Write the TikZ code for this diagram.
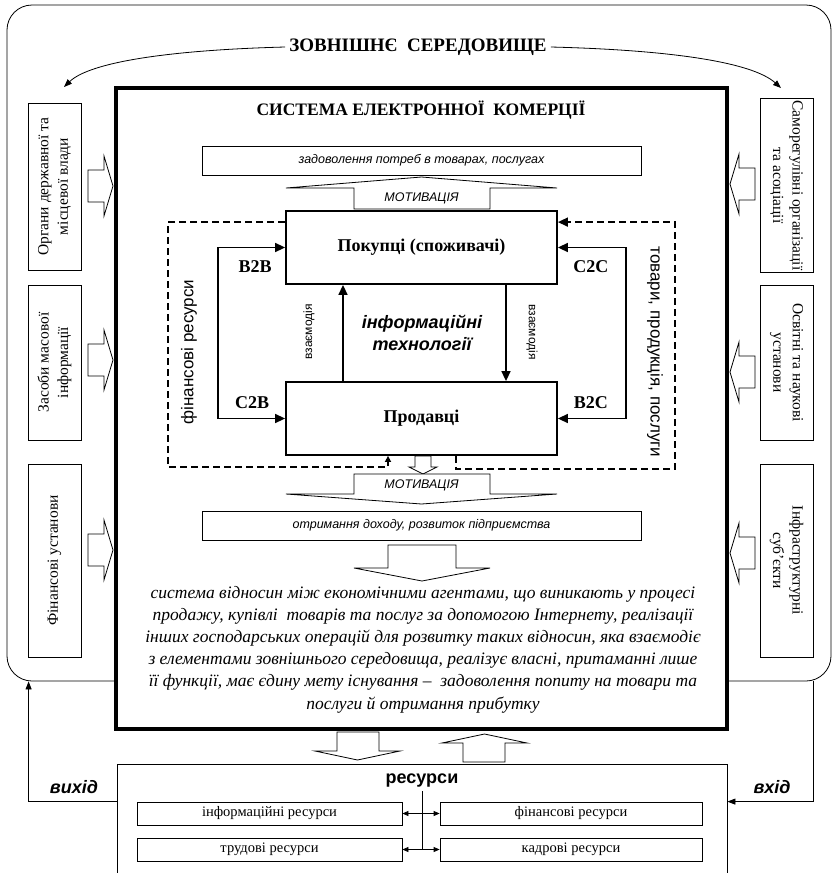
\documentclass[tikz,border=0pt]{standalone}
\usepackage{fontspec}
\setmainfont{Liberation Serif}
\setsansfont{Liberation Sans}
\usetikzlibrary{arrows.meta}
\newcommand{\flechedroite}[2]{\draw[fleche] (#1,#2) ++(0,-16) -- ++(16,0) -- ++(0,-14) -- ++(9,30) -- ++(-9,30) -- ++(0,-14) -- ++(-16,0) -- cycle;}
\newcommand{\flechegauche}[2]{\draw[fleche] (#1,#2) ++(0,-16) -- ++(-16,0) -- ++(0,-14) -- ++(-9,30) -- ++(9,30) -- ++(0,-14) -- ++(16,0) -- cycle;}

\begin{document}
\begin{tikzpicture}[x=1pt,y=-1pt,
	>={Triangle[length=10pt,width=9pt]},
	mince/.style={line width=0.8pt},
	acteur/.style={draw,line width=0.8pt,minimum height=53pt,inner sep=2pt,align=center,font=\fontsize{15.5}{19.5}\selectfont},
	bloc/.style={draw,line width=1.8pt,minimum width=271pt,minimum height=73pt,inner sep=0pt,font=\fontsize{18}{20}\selectfont\bfseries},
	besoin/.style={draw,line width=0.8pt,minimum width=439pt,minimum height=29pt,inner sep=0pt,font=\fontsize{12.5}{14}\selectfont\sffamily\itshape},
	fleche/.style={draw,line width=0.8pt,fill=white},
	lien/.style={line width=1.5pt},
	modele/.style={font=\fontsize{18}{20}\selectfont\bfseries},
	motiv/.style={font=\fontsize{12.5}{14}\selectfont\sffamily\itshape},
	ressource/.style={draw,line width=0.8pt,minimum height=23pt,inner sep=0pt,font=\fontsize{14.5}{16}\selectfont},
	sortie/.style={font=\fontsize{18}{20}\selectfont\sffamily\bfseries\itshape}]
	\useasboundingbox (0,0) rectangle (835,873);
	% l'environnement exterieur
	\node[draw,mince,rounded corners=25pt,minimum width=824pt,minimum height=676pt,inner sep=0pt] (zovn) at (419,343) {};
	\node[font=\fontsize{19}{21}\selectfont\bfseries,inner sep=4pt] (seredovyshche) at (418,47) {ЗОВНІШНЄ\ \ СЕРЕДОВИЩЕ};
	\coordinate (vplyvL) at (64,87);
	\coordinate (vplyvR) at (781,88);
	\draw[mince,->,>={Triangle[length=8pt,width=6pt]}] (seredovyshche.west) .. controls (170,50) and (90,62) .. (vplyvL);
	\draw[mince,->,>={Triangle[length=8pt,width=6pt]}] (seredovyshche.east) .. controls (670,50) and (752,62) .. (vplyvR);
	% acteurs de gauche
	\node[acteur,rotate=90,minimum width=167pt] (organy) at (54.5,186.5) {Органи державної та\\місцевої влади};
	\node[acteur,rotate=90,minimum width=155pt] (zmi) at (54.5,362.5) {Засоби масової\\інформації};
	\node[acteur,rotate=90,minimum width=193pt] (finustanovy) at (54.5,560.5) {Фінансові установи};
	% acteurs de droite
	\node[acteur,rotate=-90,minimum width=165pt] (samoreg) at (786.5,185.5) {Саморегулівні організації\\та асоціації};
	\node[acteur,rotate=-90,minimum width=155pt] (osvita) at (786.5,362.5) {Освітні та наукові\\установи};
	\node[acteur,rotate=-90,minimum width=193pt] (infra) at (786.5,560.5) {Інфраструктурні\\суб’єкти};
	% le systeme
	\node[draw,line width=3.2pt,fill=white,minimum width=611pt,minimum height=641pt,inner sep=0pt] (systema) at (421.5,408.5) {};
	\flechedroite{88}{186}
	\flechedroite{88}{360}
	\flechedroite{88}{550}
	\flechegauche{755}{184}
	\flechegauche{755}{372}
	\flechegauche{755}{553}
	\node[font=\fontsize{17.5}{20}\selectfont\bfseries] (nazva) at (421,110) {СИСТЕМА ЕЛЕКТРОННОЇ\ \ КОМЕРЦІЇ};
	\node[besoin] (potreby) at (421.5,160.5) {задоволення потреб в товарах, послугах};
	\draw[fleche] (354,209) -- (354,188) -- (286,188) -- (421.5,177) -- (557,188) -- (490,188) -- (490,209) -- cycle;
	\node[motiv] at (421.5,198) {МОТИВАЦІЯ};
	\node[bloc] (pokuptsi) at (421.5,247.5) {Покупці (споживачі)};
	\node[bloc] (prodavtsi) at (421.5,418.5) {Продавці};
	% les flux B2B, C2B, C2C, B2C
	\draw[lien,<->] (pokuptsi.west) -- ++(-67,0) |- (prodavtsi.west);
	\draw[lien,<->] (pokuptsi.east) -- ++(68,0) |- (prodavtsi.east);
	\node[modele] at ([xshift=-30pt,yshift=-19.5pt]pokuptsi.west) {B2B};
	\node[modele] at ([xshift=-33pt,yshift=15.5pt]prodavtsi.west) {C2B};
	\node[modele] at ([xshift=33pt,yshift=-19.5pt]pokuptsi.east) {C2C};
	\node[modele] at ([xshift=33pt,yshift=15.5pt]prodavtsi.east) {B2C};
	\draw[lien,->] ([xshift=-78.5pt]prodavtsi.north) -- ([xshift=-78.5pt]pokuptsi.south);
	\draw[lien,->] ([xshift=84.5pt]pokuptsi.south) -- ([xshift=84.5pt]prodavtsi.north);
	\node[rotate=90,font=\fontsize{12}{14}\selectfont\sffamily] at (309,332) {взаємодія};
	\node[rotate=-90,font=\fontsize{12}{14}\selectfont\sffamily] at (532,332) {взаємодія};
	\node[align=center,font=\fontsize{18}{22}\selectfont\sffamily\bfseries\itshape] at (422,333) {інформаційні\\технології};
	% les flux financiers et les marchandises
	\draw[lien,dash pattern=on 7pt off 4pt,->,>={Triangle[length=6pt,width=6pt]}] ([yshift=-12pt]pokuptsi.north west) -- ++(-117,0) -- ++(0,245) -| ([xshift=-33.5pt]prodavtsi.south);
	\draw[lien,dash pattern=on 7pt off 4pt,->] ([xshift=34.5pt]prodavtsi.south) -- ++(0,13) -- ++(219,0) |- ([yshift=-12pt]pokuptsi.north east);
	\node[rotate=90,font=\fontsize{17}{19}\selectfont\sffamily] at (189,352) {фінансові ресурси};
	\node[rotate=-90,font=\fontsize{17}{19}\selectfont\sffamily] at (655,352) {товари, продукція, послуги};
	\draw[fleche] (415,456) -- (431,456) -- (431,467) -- (437,467) -- (423,474) -- (409,467) -- (415,467) -- cycle;
	\draw[fleche] (354,474) -- (490,474) -- (490,494) -- (557,494) -- (421.5,504) -- (286,494) -- (354,494) -- cycle;
	\node[motiv] at (421.5,485) {МОТИВАЦІЯ};
	\node[besoin] (dokhid) at (421.5,525.5) {отримання доходу, розвиток підприємства};
	\draw[fleche] (388,545) -- (456,545) -- (456,568) -- (490,568) -- (422,581) -- (354,568) -- (388,568) -- cycle;
	\node[align=center,font=\fontsize{17.5}{22.2}\selectfont\itshape] (vyznachennia) at (423,649.5) {система відносин між економічними агентами, що виникають у процесі\\продажу, купівлі\ \ товарів та послуг за допомогою Інтернету, реалізації\\інших господарських операцій для розвитку таких відносин, яка взаємодіє\\з елементами зовнішнього середовища, реалізує власні, притаманні лише\\її функції, має єдину мету існування –\ \ задоволення попиту на товари та\\послуги й отримання прибутку};
	% les ressources
	\draw[fleche] (337,732) -- (379,732) -- (379,751) -- (400,751) -- (357.5,760) -- (315,751) -- (337,751) -- cycle;
	\draw[fleche] (463,762) -- (463,743) -- (442,743) -- (484.5,734) -- (527,743) -- (505,743) -- (505,762) -- cycle;
	\node[draw,mince,minimum width=610pt,minimum height=118pt,inner sep=0pt] (resursy) at (422,823) {};
	\node[font=\fontsize{18}{20}\selectfont\sffamily\bfseries] (resursyNazva) at (422,781) {ресурси};
	\node[ressource,minimum width=265pt] (inform) at (269.5,813.5) {інформаційні ресурси};
	\node[ressource,minimum width=262pt] (finres) at (571,813.5) {фінансові ресурси};
	\node[ressource,minimum width=265pt] (trud) at (269.5,849.5) {трудові ресурси};
	\node[ressource,minimum width=262pt] (kadry) at (571,849.5) {кадрові ресурси};
	\draw[mince] (resursyNazva.south) -- (resursyNazva.south |- trud.east);
	\draw[mince,<->,>={Triangle[length=6pt,width=5pt]}] (inform.east) -- (finres.west);
	\draw[mince,<->,>={Triangle[length=6pt,width=5pt]}] (trud.east) -- (kadry.west);
	% entree et sortie
	\draw[mince,->,>={Triangle[length=8pt,width=6pt]}] ([yshift=-38pt]resursy.north west) -| ([xshift=22pt]zovn.south west);
	\draw[mince,->,>={Triangle[length=8pt,width=6pt]}] ([xshift=-18pt]zovn.south east) |- ([yshift=-38pt]resursy.north east);
	\node[sortie] at (74,787) {вихід};
	\node[sortie] at (772,787) {вхід};
\end{tikzpicture}
\end{document}
